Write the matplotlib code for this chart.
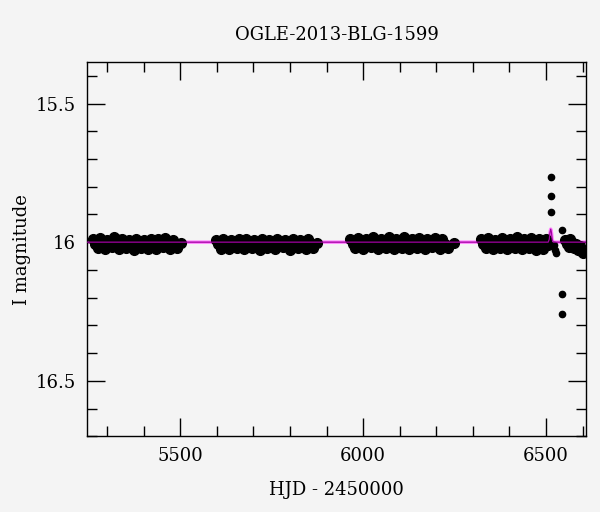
import numpy as np
import matplotlib
matplotlib.use("Agg")
import matplotlib.pyplot as plt
from matplotlib.ticker import MultipleLocator, FormatStrFormatter

# OGLE light curve

# season 1
s1_hjd = [5261, 5267, 5274, 5280, 5287, 5294, 5300, 5307, 5313, 5320,
          5327, 5333, 5340, 5347, 5353, 5360, 5366, 5373, 5380, 5386,
          5393, 5400, 5406, 5413, 5419, 5426, 5433, 5439, 5446, 5453,
          5459, 5466, 5472, 5479, 5486, 5492, 5502]
s1_mag = [15.990, 16.006, 16.022, 15.986, 16.009, 16.025, 15.992, 16.003, 16.019, 15.982,
          16.008, 16.024, 15.989, 16.005, 16.021, 15.991, 16.010, 16.027, 15.987, 16.004,
          16.020, 15.993, 16.007, 16.023, 15.988, 16.011, 16.026, 15.990, 16.005, 16.018,
          15.986, 16.008, 16.024, 15.992, 16.006, 16.021, 16.004]

# season 2
s2_hjd = [5598, 5604, 5612, 5618, 5626, 5633, 5639, 5647, 5654, 5660,
          5668, 5675, 5681, 5689, 5696, 5702, 5710, 5717, 5723, 5731,
          5738, 5744, 5752, 5759, 5765, 5773, 5780, 5786, 5794, 5801,
          5807, 5815, 5822, 5828, 5836, 5843, 5849, 5857, 5864, 5873]
s2_mag = [15.991, 16.007, 16.023, 15.988, 16.004, 16.026, 15.993, 16.009, 16.020, 15.987,
          16.006, 16.024, 15.990, 16.011, 16.022, 15.992, 16.005, 16.028, 15.989, 16.008,
          16.021, 15.994, 16.004, 16.025, 15.988, 16.010, 16.019, 15.991, 16.006, 16.030,
          15.987, 16.009, 16.022, 15.993, 16.005, 16.024, 15.990, 16.008, 16.020, 16.003]

# season 3
s3_hjd = [5965, 5971, 5979, 5986, 5992, 6000, 6007, 6013, 6021, 6028,
          6034, 6042, 6049, 6055, 6063, 6070, 6076, 6084, 6091, 6097,
          6105, 6112, 6118, 6126, 6133, 6139, 6147, 6154, 6160, 6168,
          6175, 6181, 6189, 6196, 6202, 6210, 6217, 6224, 6233, 6248]
s3_mag = [15.988, 16.006, 16.021, 15.984, 16.008, 16.024, 15.990, 16.004, 16.019, 15.980,
          16.009, 16.023, 15.987, 16.005, 16.022, 15.983, 16.010, 16.025, 15.989, 16.006,
          16.020, 15.981, 16.008, 16.023, 15.988, 16.004, 16.021, 15.985, 16.009, 16.024,
          15.990, 16.006, 16.019, 15.986, 16.007, 16.023, 15.989, 16.005, 16.020, 16.004]

# season 4 (before the event)
s4_hjd = [6322, 6328, 6335, 6341, 6348, 6355, 6361, 6368, 6374, 6381,
          6388, 6394, 6401, 6407, 6414, 6421, 6427, 6434, 6440, 6447,
          6454, 6460, 6467, 6473, 6480, 6487, 6493, 6500, 6506]
s4_mag = [15.990, 16.007, 16.022, 15.986, 16.005, 16.025, 15.991, 16.009, 16.020, 15.985,
          16.006, 16.024, 15.988, 16.010, 16.022, 15.983, 16.005, 16.026, 15.989, 16.008,
          16.021, 15.986, 16.006, 16.027, 15.990, 16.009, 16.023, 15.988, 16.010]

# event and the points after it
ev_hjd = [6513, 6514, 6514, 6521, 6524, 6527, 6543, 6545, 6545]
ev_mag = [15.766, 15.835, 15.892, 16.010, 16.030, 16.040, 15.957, 16.187, 16.259]
post_hjd = [6553, 6558, 6562, 6566, 6570, 6574, 6578, 6583, 6588, 6592, 6596, 6600]
post_mag = [15.992, 16.005, 16.018, 15.990, 16.010, 16.002, 16.022, 16.008, 16.028, 16.015, 16.032, 16.038]

# a few points with visibly larger error bars
big_hjd = [5330, 5750, 6136]
big_mag = [15.985, 16.015, 15.990]
big_err = [0.012, 0.015, 0.016]
typical_err = 0.006

# model curve
model_hjd = [5245, 6506, 6509, 6511, 6513, 6515, 6517, 6520, 6610]
model_mag = [16.0, 16.0, 15.99, 15.965, 15.953, 15.965, 15.99, 16.0, 16.0]

bg = "#f4f4f4"
plt.rcParams["font.family"] = ["DejaVu Serif"]

fig = plt.figure(figsize=(6, 5.12), dpi=100, facecolor=bg)
ax = fig.add_axes([0.145, 0.148, 0.832, 0.731], facecolor=bg)

band_hjd = np.concatenate([s1_hjd, s2_hjd, s3_hjd, s4_hjd, post_hjd])
band_mag = np.concatenate([s1_mag, s2_mag, s3_mag, s4_mag, post_mag])

# light pink model underneath the data
ax.plot(model_hjd, model_mag, color="#ff80ff", lw=2.5, zorder=1)

ax.errorbar(band_hjd, band_mag, yerr=typical_err, fmt="o", color="black", ms=7,
            elinewidth=1, capsize=1.5, zorder=2)
ax.errorbar(ev_hjd, ev_mag, yerr=typical_err, fmt="o", color="black", ms=4.5,
            elinewidth=1, capsize=1.5, zorder=2)
ax.errorbar(big_hjd, big_mag, yerr=big_err, fmt="o", color="black", ms=4.5,
            elinewidth=1, capsize=2, zorder=2)

# dark model line on top
ax.plot(model_hjd, model_mag, color="#a000a0", lw=0.9, zorder=3)

ax.set_xlim(5245, 6610)
ax.set_ylim(16.7, 15.35)

ax.xaxis.set_major_locator(MultipleLocator(500))
ax.xaxis.set_minor_locator(MultipleLocator(100))
ax.yaxis.set_major_locator(MultipleLocator(0.5))
ax.yaxis.set_minor_locator(MultipleLocator(0.1))
ax.yaxis.set_major_formatter(FormatStrFormatter("%g"))

ax.tick_params(which="both", direction="in", top=True, right=True,
               labelsize=13, width=1, pad=8)
ax.tick_params(which="major", length=13)
ax.tick_params(which="minor", length=7)
for s in ax.spines.values():
    s.set_linewidth(1)

ax.set_xlabel("HJD - 2450000", fontsize=13, labelpad=11)
ax.set_ylabel("I magnitude", fontsize=13)
ax.yaxis.set_label_coords(-0.112, 0.5)
ax.set_title("OGLE-2013-BLG-1599", fontsize=13, pad=16)

fig.savefig("out.png", dpi=100, facecolor=bg)
